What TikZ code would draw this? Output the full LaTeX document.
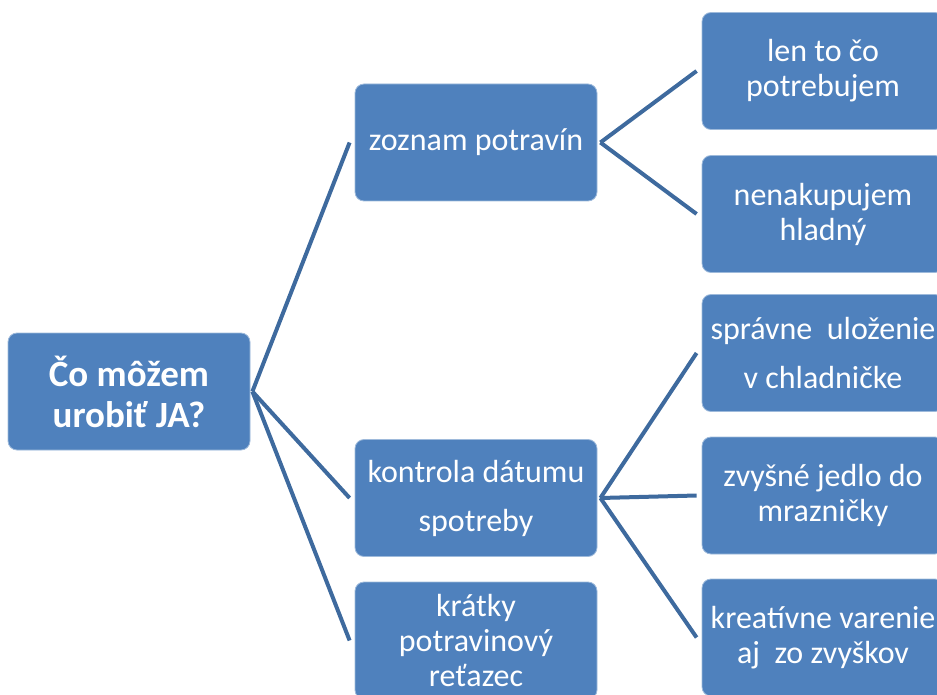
\documentclass[tikz,border=0pt]{standalone}
\usepackage{fontspec}
\setmainfont{Carlito}
\usepackage{xcolor}
\definecolor{boxblue}{HTML}{4F81BD}
\definecolor{linkblue}{HTML}{3E6A9E}

\begin{document}
\begin{tikzpicture}[x=1pt,y=-1pt]
%\draw[help lines] (0,0) grid (937,695);
\useasboundingbox (0,0) rectangle (937,695);
\tikzset{
box/.style = {
  rectangle, rounded corners = 9pt,
  fill = boxblue, draw = boxblue!55!white, line width = 0.8pt,
  minimum width = 242pt, minimum height = 117pt,
  text = white, align = center, inner sep = 0pt,
  font = \fontsize{32}{35}\selectfont},
wide/.style = {font = \fontsize{32}{49}\selectfont},
link/.style = {
  line width = 4pt,
  color = linkblue}}

\node[box, font = \bfseries\fontsize{37}{41}\selectfont] (ja) at (129,391.5) {Čo môžem\\urobiť JA?};

\node[box] (zoznam)   at (476,142.5) {zoznam potravín};
\node[box, wide] (kontrola) at (476,498) {kontrola dátumu\\spotreby};
\node[box] (kratky)   at (476,640.5) {krátky\\potravinový\\reťazec};

\node[box] (len)      at (823,71)    {len to čo\\potrebujem};
\node[box] (hladny)   at (823,214)   {nenakupujem\\hladný};
\node[box, wide] (ulozenie) at (823,353) {správne\ \ uloženie\\v chladničke};
\node[box] (zvysne)   at (823,495.5) {zvyšné jedlo do\\mrazničky};
\node[box] (varenie)  at (823,637.5) {kreatívne varenie\\aj\ \ zo zvyškov};

\foreach \t in {zoznam,kontrola,kratky}
  \draw[link] ([xshift=2pt]ja.east) -- ([xshift=-5pt]\t.west);
\foreach \t in {len,hladny}
  \draw[link] ([xshift=3pt]zoznam.east) -- ([xshift=-5pt]\t.west);
\foreach \t in {ulozenie,zvysne,varenie}
  \draw[link] ([xshift=3pt]kontrola.east) -- ([xshift=-5pt]\t.west);
\end{tikzpicture}
\end{document}
